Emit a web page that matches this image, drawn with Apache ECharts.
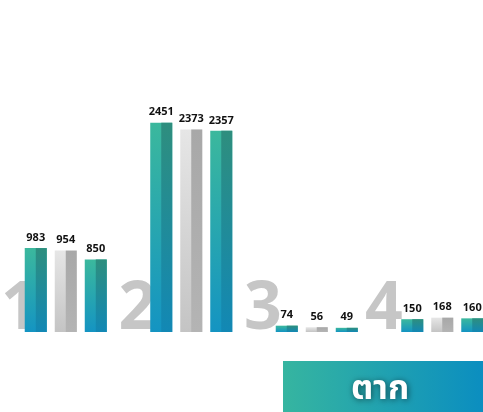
<!DOCTYPE html>
<html>
<head>
<meta charset="utf-8">
<style>html,body{margin:0;padding:0;background:#fff}#c{width:483px;height:412px}</style>
<script src="https://cdn.jsdelivr.net/npm/echarts@6/dist/echarts.min.js"></script>
</head>
<body>
<div id="c"></div>
<script>
var categories = ['1', '2', '3', '4'];
var seriesA = [983, 2451, 74, 150];
var seriesB = [954, 2373, 56, 168];
var seriesC = [850, 2357, 49, 160];
var titleText = 'ตาก';

function vgrad(top, bottom) {
  return {type: 'linear', x: 0, y: 0, x2: 0, y2: 1,
    colorStops: [{offset: 0, color: top}, {offset: 1, color: bottom}]};
}
var tealLeft = vgrad('#3bb89d', '#1494c2');
var tealRight = vgrad('#2e8e7e', '#1288b5');
var grayLeft = vgrad('#e6e6e6', '#c4c4c4');
var grayRight = vgrad('#a8a8a8', '#b4b4b4');

var labelStyle = {show: true, position: 'top', distance: 5, fontSize: 11, fontWeight: 'bold',
  color: '#111', fontFamily: 'Open Sans'};

function baseBar(name, data, color) {
  return {type: 'bar', name: name, data: data, xAxisIndex: 0, yAxisIndex: 0,
    barWidth: 22, barGap: '36.4%', itemStyle: {color: color}, label: labelStyle,
    silent: true, z: 2};
}
function rightHalf(name, data, color) {
  return {type: 'bar', name: name + '-r', data: data, xAxisIndex: 1, yAxisIndex: 1,
    barWidth: 11, barGap: '172.7%', itemStyle: {color: color}, silent: true, z: 3};
}

var digitFont = {fontSize: 66, fontWeight: 'bold', fontFamily: 'Open Sans', color: '#c6c6c6', lineHeight: 66};
var rich = {
  n0: Object.assign({padding: [0, 92, 0, 0]}, digitFont),
  n1: Object.assign({padding: [0, 108, 0, 0]}, digitFont),
  n2: Object.assign({padding: [0, 108, 0, 0]}, digitFont),
  n3: Object.assign({padding: [0, 117, 0, 0]}, digitFont)
};

var chart = echarts.init(document.getElementById('c'), null, {renderer: 'canvas'});
chart.setOption({
  animation: false,
  backgroundColor: '#ffffff',
  grid: [
    {left: 3, width: 502, top: 76, height: 256, containLabel: false, outerBoundsMode: 'none'},
    {left: 8.5, width: 502, top: 76, height: 256, containLabel: false, outerBoundsMode: 'none'}
  ],
  xAxis: [
    {type: 'category', data: categories, gridIndex: 0,
      axisLine: {show: false}, axisTick: {show: false}, splitLine: {show: false},
      z: 0,
      axisLabel: {show: true, interval: 0, fontSize: 66, fontWeight: 'bold', fontFamily: 'Open Sans',
        color: '#c6c6c6', hideOverlap: false, rich: rich,
        formatter: function (v, i) { return '{n' + i + '|' + v + '}'; },
        verticalAlign: 'bottom', lineHeight: 66, margin: 11, align: 'center'}},
    {type: 'category', data: categories, gridIndex: 1, show: false}
  ],
  yAxis: [
    {type: 'value', min: 0, max: 3000, gridIndex: 0, show: false, splitLine: {show: false}},
    {type: 'value', min: 0, max: 3000, gridIndex: 1, show: false, splitLine: {show: false}}
  ],
  series: [
    baseBar('A', seriesA, tealLeft),
    baseBar('B', seriesB, grayLeft),
    baseBar('C', seriesC, tealLeft),
    rightHalf('A', seriesA, tealRight),
    rightHalf('B', seriesB, grayRight),
    rightHalf('C', seriesC, tealRight)
  ],
  graphic: [
    {type: 'rect', left: 283, top: 361, shape: {width: 200, height: 51}, z: 10,
      style: {fill: {type: 'linear', x: 0, y: 0, x2: 1, y2: 0,
        colorStops: [{offset: 0, color: '#36b5a0'}, {offset: 1, color: '#0b8ec0'}]}}},
    {type: 'text', x: 380, y: 392, z: 11,
      style: {text: titleText, fill: '#ffffff', fontSize: 34, fontWeight: 'bold',
        fontFamily: 'Noto Sans Thai, Noto Sans, sans-serif', align: 'center', verticalAlign: 'middle',
        textShadowColor: 'rgba(0,0,0,0.55)', textShadowBlur: 6, textShadowOffsetX: 1, textShadowOffsetY: 1}}
  ]
});
</script>
</body>
</html>
